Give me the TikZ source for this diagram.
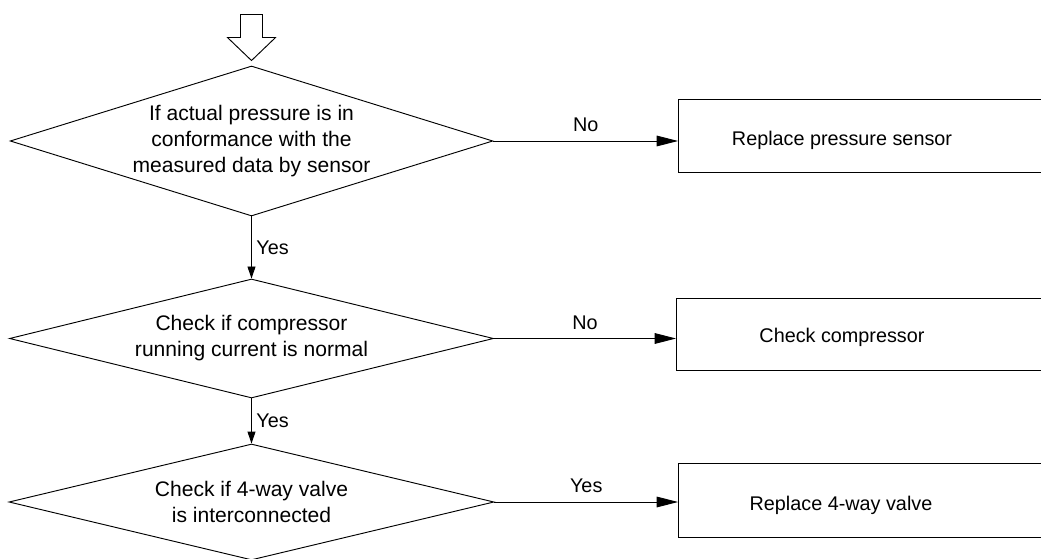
\documentclass[tikz,border=0pt]{standalone}
\usepackage{fontspec}
\setmainfont{Liberation Sans}
\usetikzlibrary{arrows.meta, shapes.geometric}

\tikzset{
  decision/.style={draw, diamond, aspect=3.3, inner sep=0pt, align=center,
    font=\fontsize{15.8}{19.5}\selectfont},
  outcome/.style={draw, rectangle, anchor=west, minimum width=286.5pt},
  flowv/.style={-{Triangle[length=9pt, width=6pt]}},
  flowh/.style={-{Triangle[length=16pt, width=8pt]}},
}

\begin{document}
\begin{tikzpicture}[x=0.75pt, y=-0.75pt, line width=0.7pt, font=\fontsize{14.85}{18}\selectfont]
  % Frame: 1041 x 559 px, boxes run off the right edge
  \clip (0,0) rectangle (1041,559);
  % Decisions
  \node[decision, minimum width=362pt, minimum height=112.5pt] (d1) at (251.5,141)
    {If actual pressure is in\\conformance with the\\measured data by sensor};
  \node[decision, minimum width=363pt, minimum height=89.25pt] (d2) at (251.5,338.5)
    {Check if compressor\\running current is normal};
  \node[decision, minimum width=363.75pt, minimum height=87pt] (d3) at (251.5,502)
    {Check if 4-way valve\\is interconnected};
  % Outcome boxes
  \node[outcome, minimum height=54.75pt] (b1) at (678,135.5) {};
  \node[outcome, minimum height=54pt] (b2) at (676,334) {};
  \node[outcome, minimum height=55.5pt] (b3) at (678,500) {};
  \node (t1) at (842,140) {Replace pressure sensor};
  \node (t2) at (842,337) {Check compressor};
  \node (t3) at (841,505) {Replace 4-way valve};
  % Start arrow
  \draw[shift={(d1.north)}] (-11,-51) -- (11,-51) -- (11,-28) -- (24,-28)
    -- (0,-5) -- (-24,-28) -- (-11,-28) -- cycle;
  % Yes branches
  \draw[flowv] (d1.south) -- node[right] (yes1) {Yes} (d2.north);
  \draw[flowv] (d2.south) -- node[right] (yes2) {Yes} (d3.north);
  % Side branches
  \draw[flowh] (d1.east) -- node[above=3pt] (no1) {No} (d1.east -| b1.west);
  \draw[flowh] (d2.east) -- node[above=3pt] (no2) {No} (d2.east -| b2.west);
  \draw[flowh] (d3.east) -- node[above=3pt] (yes3) {Yes} (d3.east -| b3.west);
\end{tikzpicture}
\end{document}
